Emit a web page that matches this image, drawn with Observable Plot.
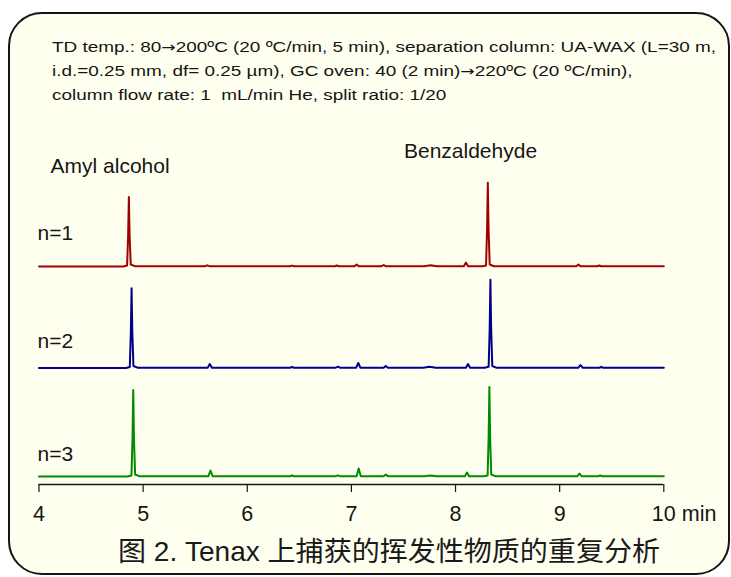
<!DOCTYPE html>
<html>
<head>
<meta charset="utf-8">
<script src="https://cdn.jsdelivr.net/npm/d3@7"></script>
<script src="https://cdn.jsdelivr.net/npm/@observablehq/plot@0.6"></script>
<style>
  html, body { margin: 0; padding: 0; background: #ffffff; }
  #wrap { position: relative; width: 731px; height: 577px; overflow: hidden; background: #ffffff; }
  #box { position: absolute; left: 8px; top: 12px; width: 718px; height: 559px;
         border: 2px solid #151515; border-radius: 34px; background: #FFFFF0; }
  #notes { position: absolute; left: 52px; top: 35px; font-family: "Liberation Sans", Arial, sans-serif;
           font-size: 15.5px; line-height: 24px; color: #151515; white-space: pre; }
  #notes div { transform-origin: 0 0; }
  #notes span.line, #caption span { display: inline-block; }
  #notes span.arr { font-family: "DejaVu Sans", sans-serif; font-size: 14px; }
  #chart { position: absolute; left: 0; top: 107px; }
  #caption { position: absolute; left: 118px; top: 530px; height: 44px; line-height: 44px;
             font-family: "Liberation Sans", "Noto Sans CJK SC", sans-serif; font-size: 27.5px;
             color: #1a1a1a; white-space: nowrap; }
  #caption span { transform-origin: 0 50%; }
</style>
</head>
<body>
<div id="wrap">
  <div id="box"></div>
  <div id="notes"></div>
  <div id="chart"></div>
  <div id="caption"></div>
</div>
<script>
// ---- Text ----
const noteLines = [
  "TD temp.: 80\u2192200\u00baC (20 \u00baC/min, 5 min), separation column: UA-WAX (L=30 m,",
  "i.d.=0.25 mm, df= 0.25 \u00b5m), GC oven: 40 (2 min)\u2192220\u00baC (20 \u00baC/min),",
  "column flow rate: 1  mL/min He, split ratio: 1/20"
];
const captionText = "图 2. Tenax 上捕获的挥发性物质的重复分析";

// ---- Categories ----
const runs = ["n=1", "n=2", "n=3"];
const runColors = ["#A00000", "#00008C", "#008A00"];
const compounds = ["Amyl alcohol", "Benzaldehyde"];
const compoundRT = [4.863, 8.31];           // retention time (min) of labelled peaks, run n=1
const xTicks = [4, 5, 6, 7, 8, 9, 10];
const xUnit = "min";

// ---- Series values: [time (min), signal (a.u.)] ----
const traceN1 = [
  [4.00,0],[4.81,0],[4.846,1],[4.856,31],[4.863,69.5],[4.870,31],[4.881,2],[4.92,0.3],
  [5.596,0.3],[5.616,1.2],[5.636,0.3],
  [6.41,0.3],[6.43,0.9],[6.45,0.3],
  [6.84,0.3],[6.86,1],[6.88,0.3],
  [7.03,0.3],[7.05,2],[7.07,0.3],
  [7.29,0.3],[7.31,1.5],[7.33,0.3],
  [7.70,0.3],[7.76,1.2],[7.82,0.3],
  [8.08,0.3],[8.10,4],[8.12,0.3],
  [8.26,0.3],[8.293,1],[8.303,38],[8.31,83.8],[8.317,38],[8.328,2],[8.37,0.3],
  [9.16,0.3],[9.18,2],[9.20,0.3],
  [9.36,0.3],[9.38,1],[9.40,0.3],
  [10.00,0.3]
];
const traceN2 = [
  [4.00,3.5],[4.836,3.5],[4.872,4.5],[4.882,39.5],[4.889,83.2],[4.896,39.5],[4.907,5.5],[4.946,3.8],
  [5.62,3.8],[5.64,7.5],[5.66,3.8],
  [6.41,3.8],[6.43,4.5],[6.45,3.8],
  [6.85,3.8],[6.87,4.8],[6.89,3.8],
  [7.046,3.8],[7.066,8.5],[7.086,3.8],
  [7.31,3.8],[7.33,5.5],[7.35,3.8],
  [7.69,3.8],[7.75,4.8],[7.81,3.8],
  [8.10,3.8],[8.12,7.5],[8.14,3.8],
  [8.28,3.8],[8.318,4.8],[8.328,43],[8.335,91.8],[8.342,43],[8.353,5.5],[8.39,3.8],
  [9.18,3.8],[9.20,6.5],[9.22,3.8],
  [9.38,3.8],[9.40,4.5],[9.42,3.8],
  [10.00,3.8]
];
const traceN3 = [
  [4.00,0],[4.852,0],[4.888,1],[4.898,38],[4.905,86.5],[4.912,38],[4.923,2],[4.962,0.3],
  [5.627,0.3],[5.647,6],[5.667,0.3],
  [6.41,0.3],[6.43,1],[6.45,0.3],
  [6.85,0.3],[6.87,1.2],[6.89,0.3],
  [7.05,0.3],[7.07,8],[7.09,0.3],
  [7.31,0.3],[7.33,2],[7.35,0.3],
  [7.70,0.3],[7.76,1],[7.82,0.3],
  [8.09,0.3],[8.11,4],[8.13,0.3],
  [8.27,0.3],[8.308,1],[8.318,40],[8.325,89.5],[8.332,40],[8.343,2],[8.38,0.3],
  [9.17,0.3],[9.19,3],[9.21,0.3],
  [9.37,0.3],[9.39,1],[9.41,0.3],
  [10.00,0.3]
];
const signalDomain = [-8, 97];

// ---- Build table for Plot ----
const traces = [traceN1, traceN2, traceN3];
const rows = traces.flatMap((tr, i) => tr.map(([t, s]) => ({run: runs[i], t, s})));
const labels = compounds.map((name, i) => ({name, rt: compoundRT[i], run: runs[0]}));

const FONT = "'Liberation Sans', Arial, Helvetica, sans-serif";
const runLabelDy = [-34.5, -31.8, -23.5];

const chart = Plot.plot({
  width: 731,
  height: 423,
  marginLeft: 38.5,
  marginRight: 67.7,
  marginTop: 61.5,
  marginBottom: 46.5,
  style: {background: "transparent", fontFamily: FONT, color: "#151515", overflow: "visible"},
  x: {domain: [xTicks[0], xTicks[xTicks.length - 1]]},
  y: {domain: signalDomain, axis: null},
  fy: {domain: runs, axis: null, padding: 0},
  color: {domain: runs, range: runColors},
  marks: [
    Plot.line(rows, {x: "t", y: "s", fy: "run", stroke: "run", strokeWidth: 2, curve: "linear", strokeLinejoin: "round"}),
    Plot.ruleY([runs[runs.length - 1]], {fy: d => d, y: signalDomain[0], stroke: "#151515", strokeWidth: 1.4}),
    Plot.axisX(xTicks, {anchor: "bottom", tickSize: 8, tickPadding: 13, fontSize: 21.5, stroke: "#151515", strokeWidth: 1.2, tickFormat: d => String(d)}),
    Plot.text([xTicks[xTicks.length - 1]], {x: d => d, fy: () => runs[runs.length - 1], text: () => xUnit,
      frameAnchor: "bottom", dx: 18, dy: 21, textAnchor: "start", lineAnchor: "top", fontSize: 21.5, fill: "#151515"}),
    Plot.text([labels[0]], {x: "rt", fy: "run", text: "name", frameAnchor: "top", dx: -18.8, dy: 3.5,
      textAnchor: "middle", lineAnchor: "bottom", fontSize: 21, fill: "#151515"}),
    Plot.text([labels[1]], {x: "rt", fy: "run", text: "name", frameAnchor: "top", dx: -17.3, dy: -11.5,
      textAnchor: "middle", lineAnchor: "bottom", fontSize: 21, fill: "#151515"}),
    ...runs.map((r, i) => Plot.text([r], {fy: d => d, text: d => d, frameAnchor: "bottom-left",
      dx: -1.5, dy: runLabelDy[i], textAnchor: "start", lineAnchor: "bottom", fontSize: 21, fill: "#151515"}))
  ]
});
document.getElementById("chart").appendChild(chart);

// ---- Notes and caption (fit to reference widths) ----
const notes = document.getElementById("notes");
const spans = noteLines.map(line => {
  const div = document.createElement("div");
  const sp = document.createElement("span");
  sp.className = "line";
  line.split("\u2192").forEach((part, j) => {
    if (j > 0) {
      const a = document.createElement("span");
      a.className = "arr";
      a.textContent = "\u2192";
      sp.appendChild(a);
    }
    sp.appendChild(document.createTextNode(part));
  });
  div.appendChild(sp);
  notes.appendChild(div);
  return sp;
});
const w0 = spans[0].getBoundingClientRect().width;
const kx = w0 > 0 ? 664 / w0 : 1;
spans.forEach(sp => { sp.style.transform = `scaleX(${kx})`; sp.style.transformOrigin = "0 0"; });

const cap = document.getElementById("caption");
const cs = document.createElement("span");
cs.textContent = captionText;
cap.appendChild(cs);
const cw = cs.getBoundingClientRect().width;
if (cw > 0) cs.style.transform = `scaleX(${542 / cw})`;
</script>
</body>
</html>
